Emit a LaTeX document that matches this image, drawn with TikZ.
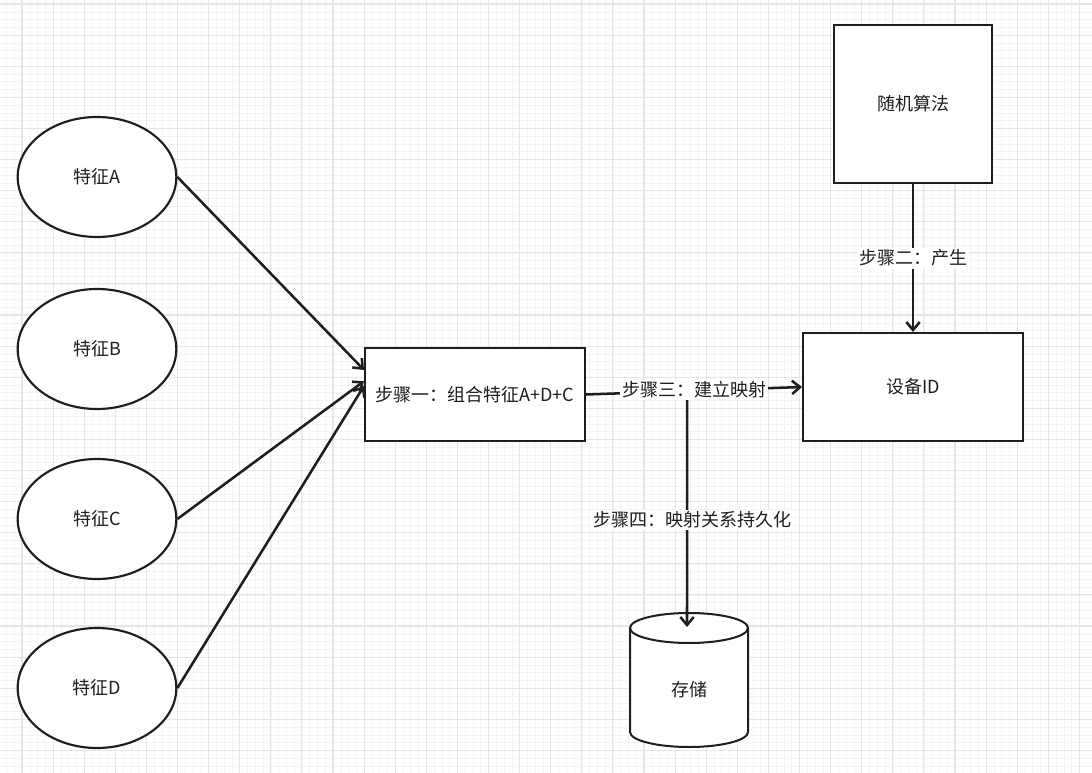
\documentclass[tikz,border=0pt]{standalone}
\usepackage{fontspec}
\setmainfont{Noto Sans CJK SC}
\usetikzlibrary{arrows.meta,shapes.geometric,calc}
\definecolor{gridmaj}{HTML}{E6E6E6}
\definecolor{gridmin}{HTML}{F4F4F4}
\definecolor{ink}{HTML}{1E1E1E}
\begin{document}
\begin{tikzpicture}[x=0.75pt,y=-0.75pt,
  every node/.style={font=\fontsize{13.5pt}{16pt}\selectfont, text=ink},
  feat/.style={ellipse, draw=ink, line width=1.6pt, fill=white, minimum width=119pt, minimum height=90pt, inner sep=0pt},
  procbox/.style={rectangle, draw=ink, line width=1.5pt, fill=white, inner sep=0pt},
  conn/.style={draw=ink, line width=1.9pt, -{Straight Barb[length=6pt,width=10pt,line width=1.9pt]}},
  lbl/.style={fill=white, inner sep=1.5pt}]
% background and grid
\fill[white] (0,0) rectangle (1092,773);
\useasboundingbox (0,0) rectangle (1092,773);
\foreach \i in {0,...,140} {
  \draw[gridmin, line width=0.4pt] ({22+\i*31.1/4-31.1},0) -- ({22+\i*31.1/4-31.1},773);
}
\foreach \i in {0,...,100} {
  \draw[gridmin, line width=0.4pt] (0,{4+\i*31.1/4}) -- (1092,{4+\i*31.1/4});
}
\foreach \i in {0,...,35} {
  \draw[gridmaj, line width=0.8pt] ({22+\i*31.1},0) -- ({22+\i*31.1},773);
}
\foreach \i in {0,...,25} {
  \draw[gridmaj, line width=0.8pt] (0,{4+\i*31.1}) -- (1092,{4+\i*31.1});
}
% feature ellipses
\node[feat] (fa) at (97,177) {特征A};
\node[feat] (fb) at (97,349) {特征B};
\node[feat] (fc) at (97,519) {特征C};
\node[feat] (fd) at (97,688) {特征D};
% boxes
\node[procbox, minimum width=165pt, minimum height=69.75pt] (combo) at (475,394.5) {步骤一：组合特征A+D+C};
\node[procbox, minimum width=165pt, minimum height=81pt] (devid) at (913,387) {设备ID};
\node[procbox, line width=2pt, minimum width=118.5pt, minimum height=118.5pt] (rand) at (913,104) {随机算法};
% storage cylinder
\draw[ink, line width=1.5pt, fill=white]
  (630,628) -- (630,732) arc[start angle=180, end angle=0, x radius=59, y radius=15]
  -- (748,628) arc[start angle=0, end angle=-180, x radius=59, y radius=15] -- cycle;
\draw[ink, line width=1.5pt] (630,628) arc[start angle=180, end angle=0, x radius=59, y radius=15];
\node[inner sep=0pt] (store) at (689,690) {存储};
\coordinate (storetop) at (687,627);
% connectors from features
\draw[conn] (fa.east) -- ([yshift=18.4pt]combo.west);
\draw[conn] (fc.east) -- ([yshift=10pt]combo.west);
\draw[conn] (fd.east) -- ([yshift=6.4pt]combo.west);
% step 3 and step 4
\draw[conn] (combo.east) -- (devid.west);
\path (combo.east) -- (devid.west) coordinate[pos=0.468] (junc);
\draw[conn] (junc) -- (storetop);
\node[lbl] (s3) at (694,390) {步骤三：建立映射};
\node[lbl] (s4) at (692,520) {步骤四：映射关系持久化};
% step 2
\draw[conn] (rand.south) -- (devid.north) node[midway, lbl] (s2) {步骤二：产生};
\end{tikzpicture}
\end{document}
